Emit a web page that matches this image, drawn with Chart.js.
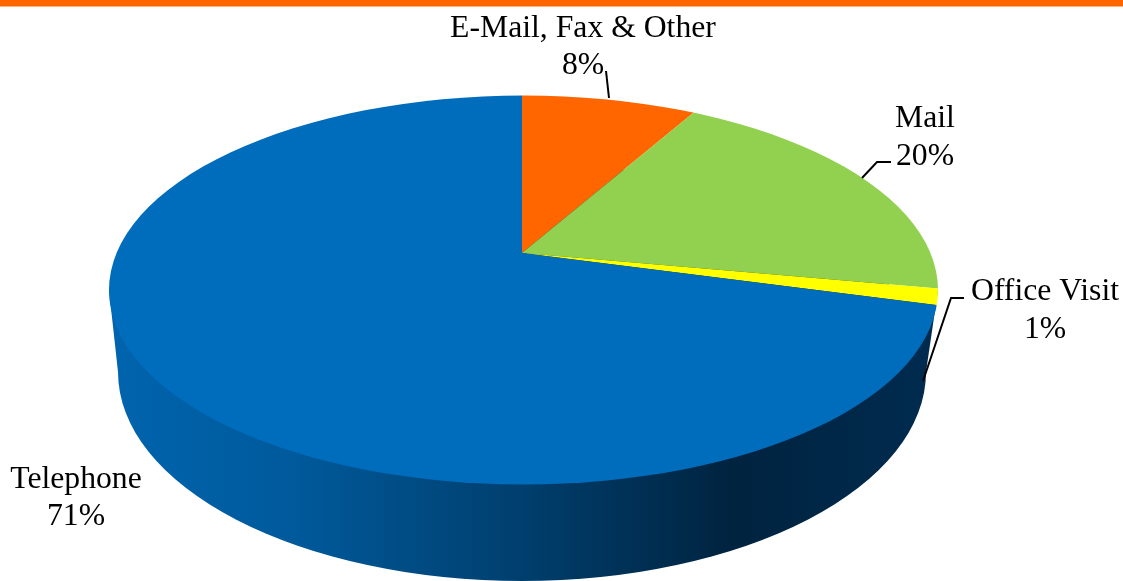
<!DOCTYPE html>
<html>
<head>
<meta charset="utf-8">
<style>html,body{margin:0;padding:0;background:#fff;overflow:hidden}canvas{display:block}</style>
<script src="https://cdn.jsdelivr.net/npm/chart.js@4"></script>
</head>
<body>
<canvas id="c" width="1123" height="581"></canvas>
<script>
const categories = ['E-Mail, Fax & Other', 'Mail', 'Office Visit', 'Telephone'];
const shares = [8.3, 19.55, 1.3, 70.85];
const sliceColors = ['#FF6600', '#92D050', '#FFFF00', '#006CBC'];

const top3d = {cx: 523.5, cy: 290, rx: 414.5, ry: 194.5, apexX: 522, apexY: 253, squash: 0.47};
const low3d = {cx: 522, cy: 372, rx: 404, ry: 209};
const labelSpots = [[583, 37, 74], [925, 127, 165], [1045, 300, 338], [76, 488, 525]];
const leaders = [
  [[606, 71], [609, 98]],
  [[891, 162], [877, 162], [862, 178]],
  [[964, 298], [951, 298], [923, 381]]
];

const pie3d = {
  id: 'pie3d',
  beforeDatasetsDraw(chart) {
    const ctx = chart.ctx, arc = chart.getDatasetMeta(0).data[0];
    ctx.save();
    ctx.fillStyle = '#FF6600';
    ctx.fillRect(0, 0, chart.width, 6.5);

    const g = ctx.createLinearGradient(110, 0, 930, 0);
    g.addColorStop(0, '#0064AE');
    g.addColorStop(0.22, '#005A9C');
    g.addColorStop(0.5, '#003F6E');
    g.addColorStop(0.76, '#00233F');
    g.addColorStop(1, '#002B4F');
    ctx.fillStyle = g;
    ctx.beginPath();
    ctx.ellipse(low3d.cx, low3d.cy, low3d.rx, low3d.ry, 0, 0, Math.PI * 2);
    ctx.fill();
    ctx.beginPath();
    ctx.moveTo(top3d.cx - top3d.rx, top3d.cy);
    ctx.lineTo(low3d.cx - low3d.rx, low3d.cy);
    ctx.lineTo(low3d.cx + low3d.rx, low3d.cy);
    ctx.lineTo(top3d.cx + top3d.rx, top3d.cy);
    ctx.closePath();
    ctx.fill();
    ctx.restore();

    ctx.save();
    ctx.beginPath();
    ctx.ellipse(top3d.cx, top3d.cy, top3d.rx, top3d.ry, 0, 0, Math.PI * 2);
    ctx.clip();
    const k = 1000 / arc.outerRadius;
    ctx.translate(top3d.apexX, top3d.apexY);
    ctx.scale(k, k * top3d.squash);
    ctx.translate(-arc.x, -arc.y);
  },
  afterDatasetsDraw(chart) {
    chart.ctx.restore();
  },
  afterDraw(chart) {
    const ctx = chart.ctx;
    ctx.save();
    ctx.strokeStyle = '#000';
    ctx.lineWidth = 2;
    leaders.forEach(l => {
      ctx.beginPath();
      l.forEach((p, i) => i ? ctx.lineTo(p[0], p[1]) : ctx.moveTo(p[0], p[1]));
      ctx.stroke();
    });
    ctx.fillStyle = '#000';
    ctx.font = '31.7px "Liberation Serif"';
    ctx.textAlign = 'center';
    ctx.textBaseline = 'alphabetic';
    categories.forEach((name, i) => {
      const s = labelSpots[i];
      ctx.fillText(name, s[0], s[1]);
      ctx.fillText(Math.round(shares[i]) + '%', s[0], s[2]);
    });
    ctx.restore();
  }
};

new Chart(document.getElementById('c'), {
  type: 'pie',
  data: {
    labels: categories,
    datasets: [{data: shares, backgroundColor: sliceColors, borderWidth: 0}]
  },
  options: {
    responsive: false,
    animation: false,
    layout: {padding: 0},
    plugins: {legend: {display: false}, tooltip: {enabled: false}, title: {display: false}}
  },
  plugins: [pie3d]
});
</script>
</body>
</html>
